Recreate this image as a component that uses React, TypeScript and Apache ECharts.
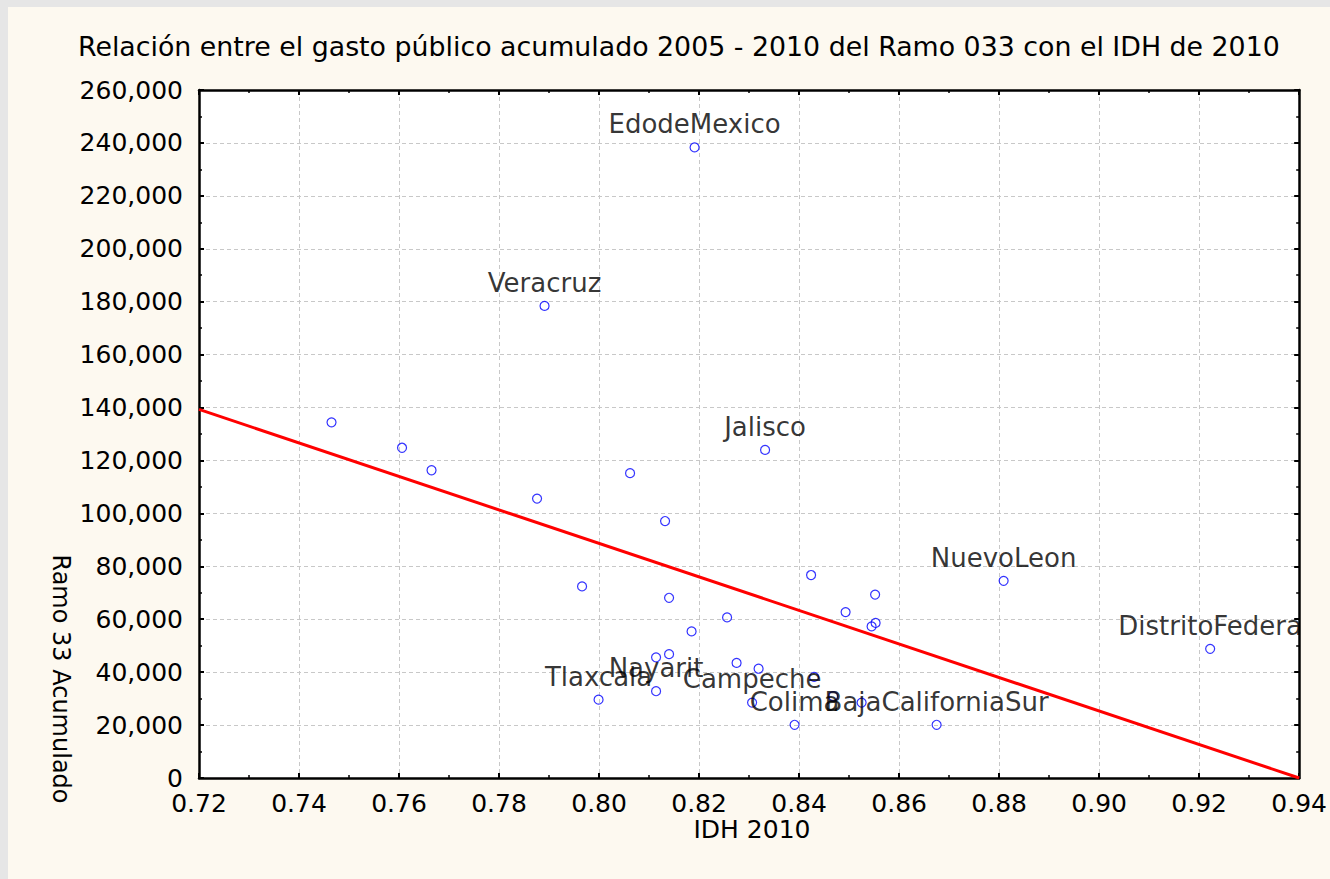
import React, { useEffect, useRef } from "react";
import * as echarts from "echarts";

// IDH 2010 (x) and Ramo 33 accumulated spending (y), one entry per state
const idh = [
  0.7465, 0.7606, 0.7665, 0.7876, 0.7891, 0.8062, 0.8132, 0.7966,
  0.814, 0.8256, 0.8185, 0.8114, 0.814, 0.8275, 0.8114, 0.7999,
  0.8319, 0.843, 0.8306, 0.8468, 0.8525, 0.8391, 0.8675, 0.8424,
  0.8552, 0.8493, 0.8553, 0.8545, 0.8332, 0.8191, 0.8809, 0.9222,
];
const ramo33 = [
  134400, 124800, 116300, 105600, 178400, 115200, 97100, 72400,
  68100, 60700, 55400, 45600, 46800, 43500, 32800, 29600,
  41300, 38200, 28500, 30900, 28500, 20100, 20100, 76700,
  69300, 62700, 58600, 57300, 124000, 238300, 74500, 48800,
];
const stateLabels = [
  "", "", "", "", "Veracruz", "", "", "",
  "", "", "", "", "", "", "Nayarit", "Tlaxcala",
  "", "", "Campeche", "", "", "Colima", "BajaCaliforniaSur", "",
  "", "", "", "", "Jalisco", "EdodeMexico", "NuevoLeon", "DistritoFedera",
];
// fitted regression line endpoints
const fitX = [0.72, 0.94];
const fitY = [139300, 0];
// axis ranges: [min, max, interval]
const xRange = [0.72, 0.94, 0.02];
const yRange = [0, 260000, 20000];

const FONT = "DejaVu Sans";

export default function App() {
  const ref = useRef<HTMLDivElement>(null);
  useEffect(() => {
    if (!ref.current) return;
    const chart = echarts.init(ref.current, null, { renderer: "svg" });
    const points = idh.map((x, i) => ({
      value: [x, ramo33[i]],
      label: { show: stateLabels[i] !== "", formatter: stateLabels[i] },
    }));
    const axisBase = {
      axisLine: { show: true, onZero: false, lineStyle: { color: "#000", width: 2.5 } },
      axisTick: { show: true, inside: true, length: 5, lineStyle: { color: "#000", width: 2 } },
      minorTick: { show: true, splitNumber: 2, length: 3, lineStyle: { color: "#000", width: 1.5 } },
      minorSplitLine: { show: false },
    };
    chart.setOption({
      animation: false,
      backgroundColor: "transparent",
      textStyle: { fontFamily: FONT },
      title: {
        text: "Relación entre el gasto público acumulado 2005 - 2010 del Ramo 033 con el IDH de 2010",
        left: 73,
        top: 28,
        textStyle: { fontSize: 26.8, fontWeight: "normal", color: "#000", fontFamily: FONT },
      },
      grid: { left: 199, top: 90, width: 1102, height: 688, show: true, backgroundColor: "#fff", borderWidth: 0 },
      xAxis: [
        {
          type: "value",
          min: xRange[0],
          max: xRange[1],
          interval: xRange[2],
          position: "bottom",
          ...axisBase,
          axisLabel: {
            color: "#000",
            fontSize: 25,
            fontFamily: FONT,
            margin: 13,
            formatter: (v: number) => v.toFixed(2),
          },
          splitLine: { show: true, lineStyle: { color: "#c8c8c8", type: [4, 3], width: 1 } },
        },
        {
          type: "value",
          min: xRange[0],
          max: xRange[1],
          interval: xRange[2],
          position: "top",
          ...axisBase,
          axisLabel: { show: false },
          splitLine: { show: false },
        },
      ],
      yAxis: [
        {
          type: "value",
          min: yRange[0],
          max: yRange[1],
          interval: yRange[2],
          position: "left",
          ...axisBase,
          axisLabel: {
            color: "#000",
            fontSize: 25,
            fontFamily: FONT,
            margin: 16,
            formatter: (v: number) => v.toLocaleString("en-US"),
          },
          splitLine: { show: true, lineStyle: { color: "#c8c8c8", type: [4, 3], width: 1 } },
        },
        {
          type: "value",
          min: yRange[0],
          max: yRange[1],
          interval: yRange[2],
          position: "right",
          ...axisBase,
          axisLabel: { show: false },
          splitLine: { show: false },
        },
      ],
      graphic: [
        {
          type: "text",
          x: 61,
          y: 679,
          rotation: -Math.PI / 2,
          style: {
            text: "Ramo 33 Acumulado",
            fontSize: 24,
            fontFamily: FONT,
            fill: "#000",
            textAlign: "center",
            textVerticalAlign: "middle",
          },
        },
        {
          type: "text",
          x: 752,
          y: 829,
          style: {
            text: "IDH 2010",
            fontSize: 25,
            fontFamily: FONT,
            fill: "#000",
            textAlign: "center",
            textVerticalAlign: "middle",
          },
        },
      ],
      series: [
        {
          type: "line",
          data: fitX.map((x, i) => [x, fitY[i]]),
          showSymbol: false,
          lineStyle: { color: "#ff0000", width: 3 },
          silent: true,
          z: 2,
        },
        {
          type: "scatter",
          data: points,
          symbol: "circle",
          symbolSize: 9,
          itemStyle: { color: "rgba(0,0,0,0)", borderColor: "#0000ff", borderWidth: 1.2 },
          label: {
            position: "top",
            distance: 5,
            color: "#000",
            fontSize: 26,
            fontFamily: FONT,
          },
          z: 3,
        },
      ],
    });
    return () => chart.dispose();
  }, []);

  return (
    <div style={{ position: "fixed", left: 0, top: 0, width: 1330, height: 879, background: "#e6e6e6" }}>
      <div style={{ position: "absolute", left: 8, top: 7, right: 0, bottom: 0, background: "#fdf9f0" }} />
      <div ref={ref} style={{ position: "absolute", left: 0, top: 0, width: 1330, height: 879 }} />
    </div>
  );
}
